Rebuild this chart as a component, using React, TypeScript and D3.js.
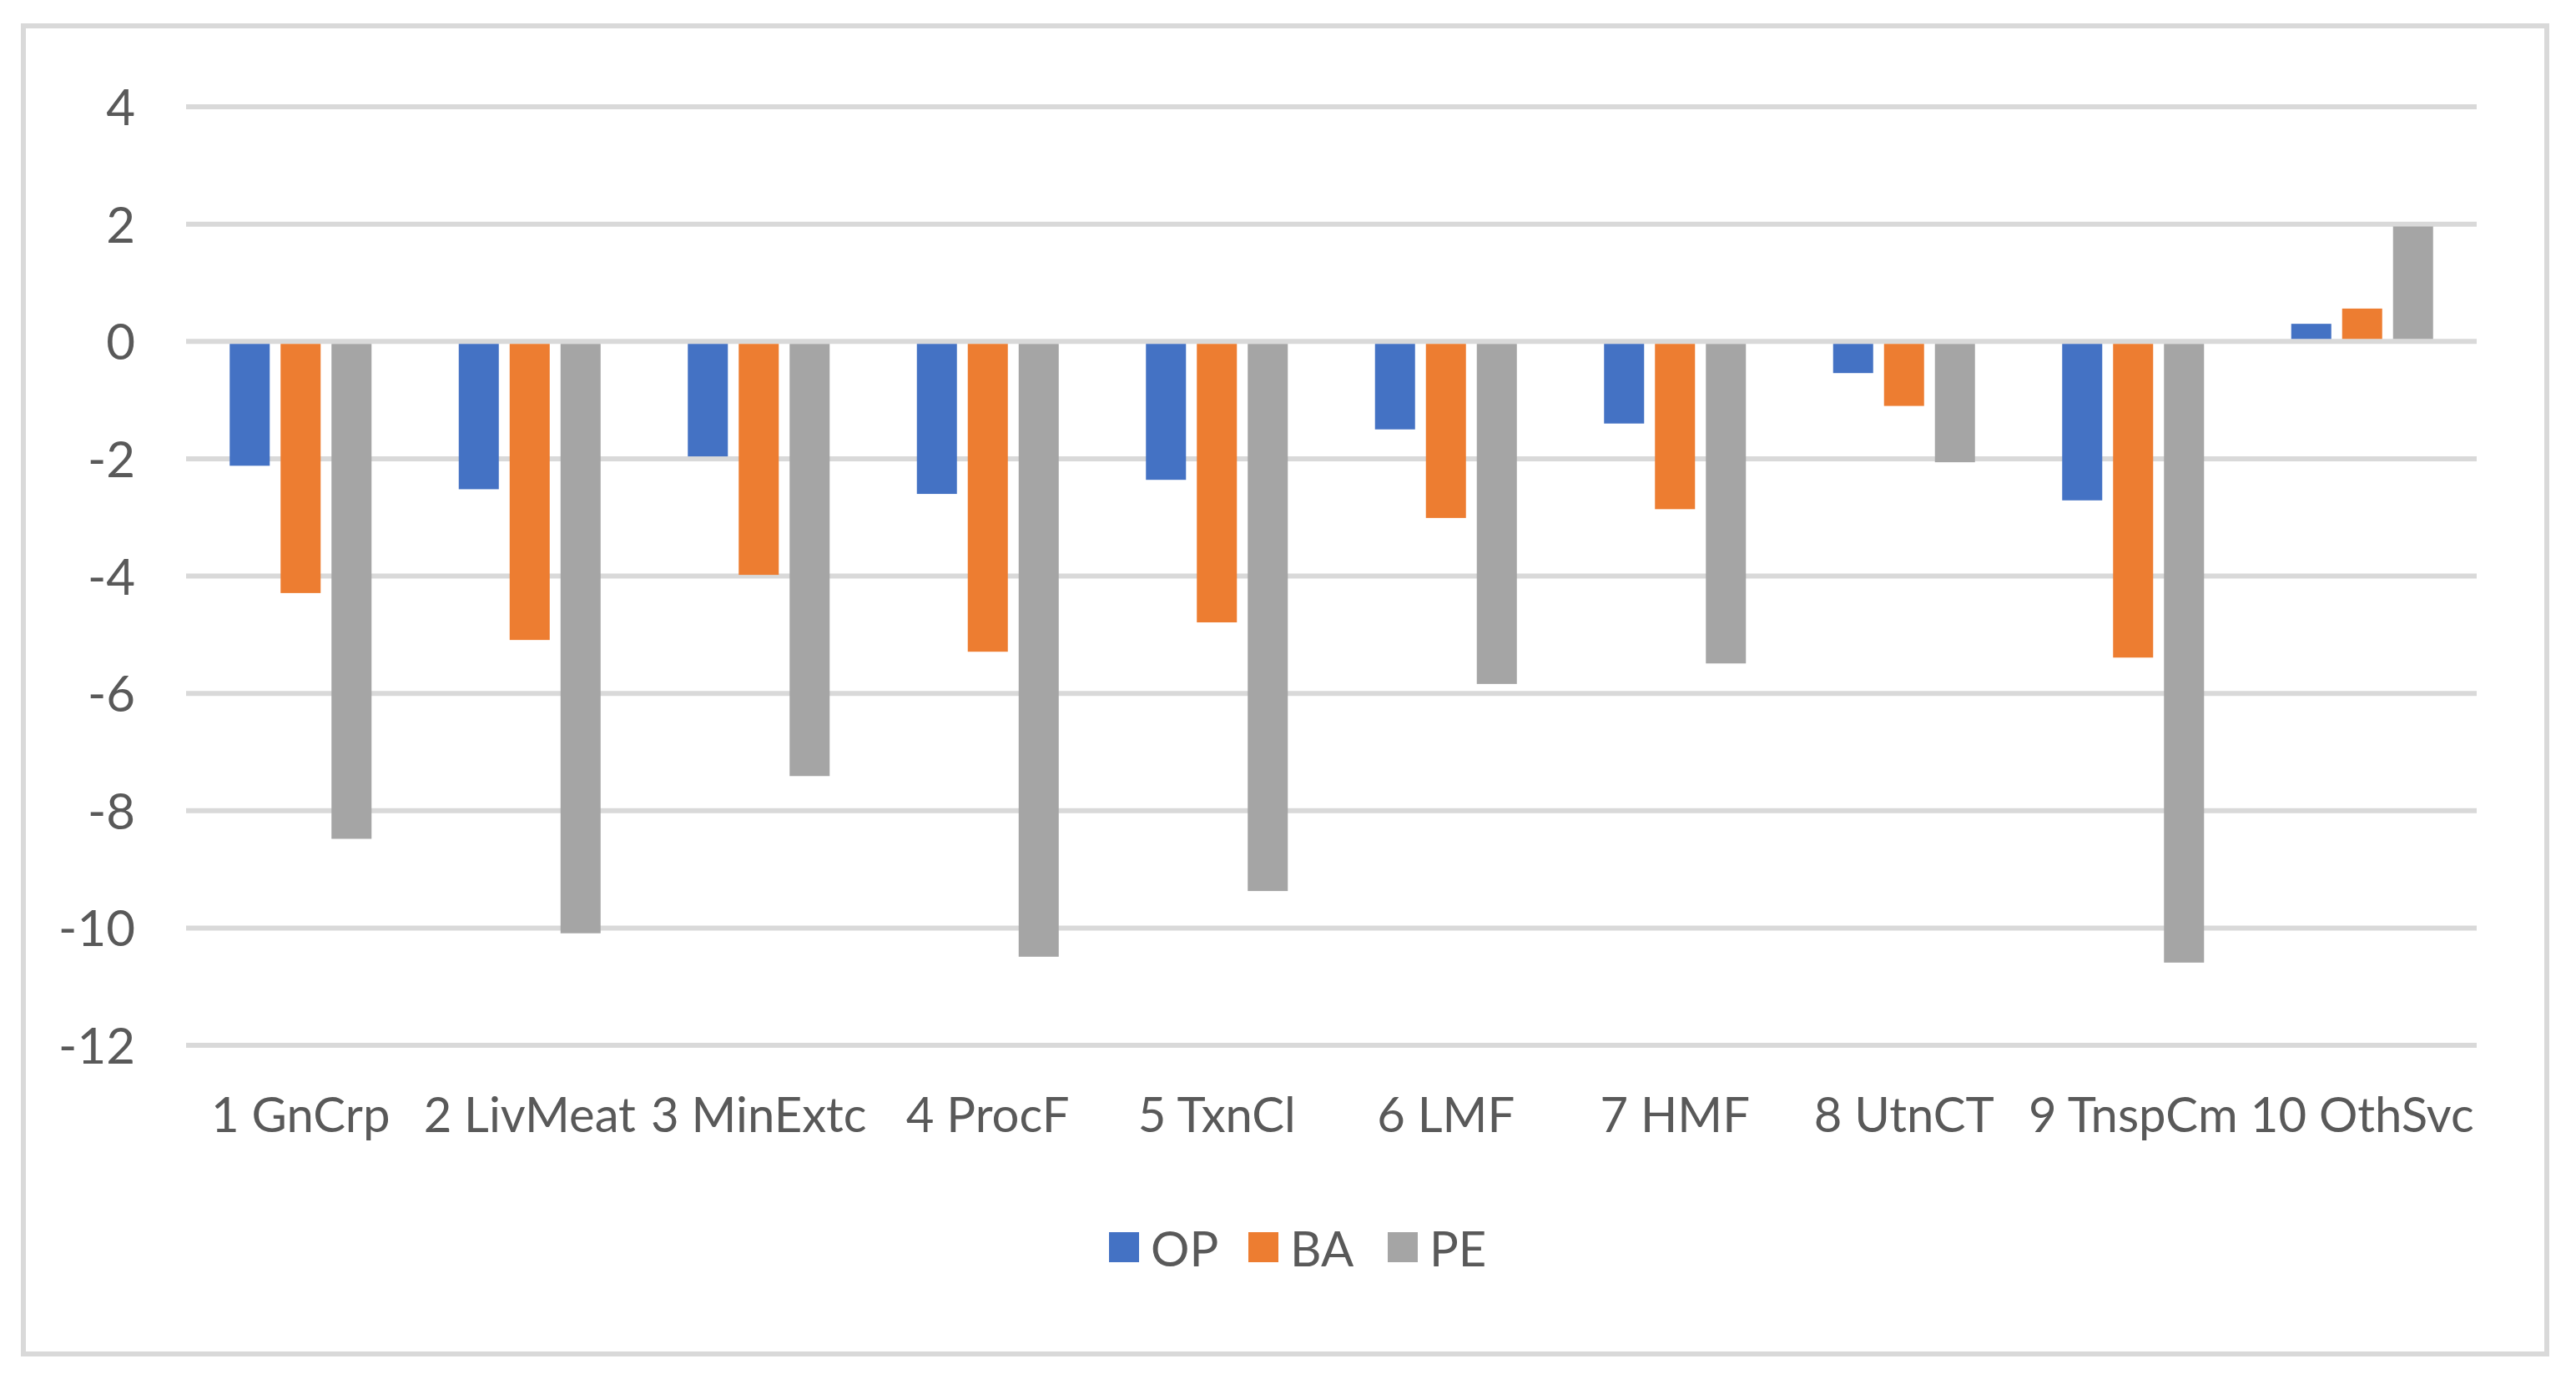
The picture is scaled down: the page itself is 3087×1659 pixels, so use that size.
import * as d3 from "d3";

const categories = [
  "1 GnCrp",
  "2 LivMeat",
  "3 MinExtc",
  "4 ProcF",
  "5 TxnCl",
  "6 LMF",
  "7 HMF",
  "8 UtnCT",
  "9 TnspCm",
  "10 OthSvc",
];
const seriesNames = ["OP", "BA", "PE"];
const opValues = [-2.12, -2.52, -1.96, -2.6, -2.36, -1.5, -1.4, -0.54, -2.71, 0.3];
const baValues = [-4.29, -5.09, -3.98, -5.29, -4.79, -3.01, -2.86, -1.1, -5.39, 0.56];
const peValues = [-8.48, -10.09, -7.41, -10.49, -9.37, -5.84, -5.49, -2.06, -10.59, 1.96];
const yTicks = [4, 2, 0, -2, -4, -6, -8, -10, -12];
const colors = ["#4472C4", "#ED7D31", "#A5A5A5"];

const W = 3087;
const H = 1659;
const FONT = "Lato, 'Open Sans', sans-serif";
const TEXT = "#595959";
const GRID = "#d9d9d9";

export default function App() {
  const values = [opValues, baValues, peValues];

  const x0 = d3.scaleBand<string>().domain(categories).range([223, 2968]);
  const x1 = d3.scaleBand<string>().domain(seriesNames).range([-85, 85]).paddingInner(0.213);
  const y = d3.scaleLinear().domain([-12, 4]).range([1253, 128]);

  const legendStep = 167;
  const legendX0 = 1329;

  return (
    <svg
      width={W}
      height={H}
      style={{ position: "absolute", left: 0, top: 0, display: "block", background: "#fff" }}
      fontFamily={FONT}
    >
      <rect x={28} y={31} width={3024} height={1592} fill="#fff" stroke={GRID} strokeWidth={6} />

      {/* gridlines + y labels */}
      {yTicks.map((t) => (
        <g key={t}>
          <line x1={223} x2={2968} y1={y(t)} y2={y(t)} stroke={GRID} strokeWidth={6} />
          <text x={162} y={y(t) + 22} textAnchor="end" fontSize={60} fill={TEXT}>
            {t}
          </text>
        </g>
      ))}

      {/* bars */}
      {categories.map((c, i) => (
        <g key={c} transform={`translate(${x0(c)! + x0.bandwidth() / 2},0)`}>
          {seriesNames.map((s, j) => {
            const v = values[j][i];
            return (
              <rect
                key={s}
                x={x1(s)}
                width={x1.bandwidth()}
                y={Math.min(y(v), y(0) + 3)}
                height={Math.abs(y(v) - y(0)) - 3}
                fill={colors[j]}
              />
            );
          })}
        </g>
      ))}

      {/* category labels */}
      {categories.map((c) => (
        <text
          key={c}
          x={x0(c)! + x0.bandwidth() / 2}
          y={1357}
          textAnchor="middle"
          fontSize={58}
          fill={TEXT}
        >
          {c}
        </text>
      ))}

      {/* legend */}
      {seriesNames.map((s, j) => (
        <g key={s} transform={`translate(${legendX0 + j * legendStep},0)`}>
          <rect x={0} y={1477} width={36} height={36} fill={colors[j]} />
          <text x={50} y={1518} fontSize={58} fill={TEXT}>
            {s}
          </text>
        </g>
      ))}
    </svg>
  );
}
